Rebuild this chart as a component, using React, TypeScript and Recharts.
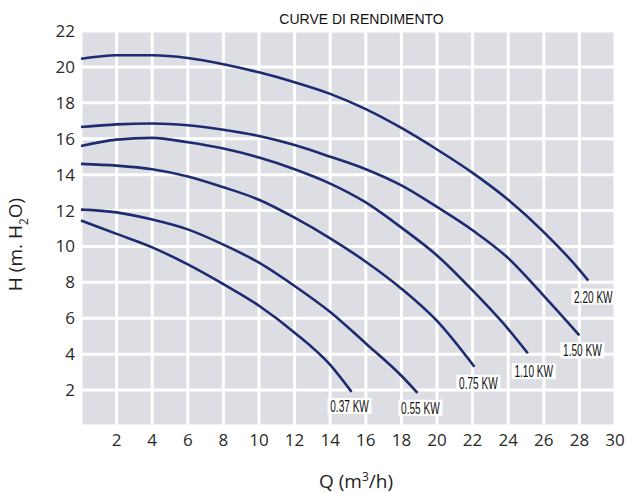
import React from 'react';
import { LineChart, Line, XAxis, YAxis, CartesianGrid, Label } from 'recharts';

// pump performance curves, Q in m3/h, H in m of water
const kw037 = [
  { q: 0, h: 11.45 }, { q: 2, h: 10.7 }, { q: 4, h: 9.95 }, { q: 6, h: 9.0 },
  { q: 8, h: 7.9 }, { q: 10, h: 6.7 }, { q: 12, h: 5.2 }, { q: 14, h: 3.4 },
  { q: 15.2, h: 1.9 },
];
const kw055 = [
  { q: 0, h: 12.05 }, { q: 2, h: 11.9 }, { q: 4, h: 11.5 }, { q: 6, h: 10.95 },
  { q: 8, h: 10.1 }, { q: 10, h: 9.1 }, { q: 12, h: 7.8 }, { q: 14, h: 6.35 },
  { q: 16, h: 4.6 }, { q: 18, h: 2.8 }, { q: 18.9, h: 1.85 },
];
const kw075 = [
  { q: 0, h: 14.6 }, { q: 2, h: 14.5 }, { q: 4, h: 14.3 }, { q: 6, h: 13.9 },
  { q: 8, h: 13.3 }, { q: 10, h: 12.6 }, { q: 12, h: 11.6 }, { q: 14, h: 10.45 },
  { q: 16, h: 9.15 }, { q: 18, h: 7.65 }, { q: 20, h: 5.85 }, { q: 22.1, h: 3.3 },
];
const kw110 = [
  { q: 0, h: 15.6 }, { q: 2, h: 15.95 }, { q: 4, h: 16.05 }, { q: 6, h: 15.8 },
  { q: 8, h: 15.45 }, { q: 10, h: 14.95 }, { q: 12, h: 14.3 }, { q: 14, h: 13.5 },
  { q: 16, h: 12.45 }, { q: 18, h: 11.05 }, { q: 20, h: 9.5 }, { q: 22, h: 7.55 },
  { q: 24, h: 5.4 }, { q: 25.1, h: 4.05 },
];
const kw150 = [
  { q: 0, h: 16.65 }, { q: 2, h: 16.8 }, { q: 4, h: 16.85 }, { q: 6, h: 16.75 },
  { q: 8, h: 16.5 }, { q: 10, h: 16.15 }, { q: 12, h: 15.65 }, { q: 14, h: 15.0 },
  { q: 16, h: 14.3 }, { q: 18, h: 13.4 }, { q: 20, h: 12.2 }, { q: 22, h: 10.9 },
  { q: 24, h: 9.35 }, { q: 26, h: 7.25 }, { q: 28, h: 5.05 },
];
const kw220 = [
  { q: 0, h: 20.45 }, { q: 2, h: 20.65 }, { q: 4, h: 20.65 }, { q: 6, h: 20.5 },
  { q: 8, h: 20.15 }, { q: 10, h: 19.7 }, { q: 12, h: 19.15 }, { q: 14, h: 18.5 },
  { q: 16, h: 17.65 }, { q: 18, h: 16.6 }, { q: 20, h: 15.4 }, { q: 22, h: 14.1 },
  { q: 24, h: 12.6 }, { q: 26, h: 10.8 }, { q: 28, h: 8.7 }, { q: 28.5, h: 8.1 },
];

const seriesNames = ['0.37 KW', '0.55 KW', '0.75 KW', '1.10 KW', '1.50 KW', '2.20 KW'];
const seriesData = [kw037, kw055, kw075, kw110, kw150, kw220];

const xTicks = [2, 4, 6, 8, 10, 12, 14, 16, 18, 20, 22, 24, 26, 28, 30];
const yTicks = [2, 4, 6, 8, 10, 12, 14, 16, 18, 20, 22];

// where each end label sits relative to the curve end, in px
const labelOffsets = [
  [-2, 14], [3, 15], [4, 16], [6, 18], [3, 15], [5, 16],
];

const CURVE = '#1d2c70';
const TICK_FONT = "'Open Sans', sans-serif";
const LABEL_FONT = "'Liberation Sans', Arial, sans-serif";

const endLabel = (name: string, last: number, dx: number, dy: number) => (props: any) => {
  if (props.index !== last) return null;
  const cx = props.x + dx;
  const cy = props.y + dy;
  return (
    <g>
      <rect x={cx - 22} y={cy - 8} width={44} height={16} fill="#fff" />
      <text
        transform={`translate(${cx} ${cy + 6}) scale(0.63 1)`}
        textAnchor="middle"
        fontFamily={LABEL_FONT}
        fontSize={16}
        fill="#111"
      >
        {name}
      </text>
    </g>
  );
};

const XTitle = (props: any) => {
  const { x, y, width } = props.viewBox;
  return (
    <text x={x + width / 2 + 8} y={y + 62} textAnchor="middle" fontFamily={TICK_FONT} fontSize={19} fill="#222">
      Q (m<tspan dy={-7} fontSize={12}>3</tspan><tspan dy={7}>/h)</tspan>
    </text>
  );
};

const YTitle = (props: any) => {
  const { y, height } = props.viewBox;
  const cx = 22;
  const cy = y + height / 2 + 16;
  return (
    <text x={cx} y={cy} transform={`rotate(-90 ${cx} ${cy})`} textAnchor="middle" fontFamily={TICK_FONT} fontSize={19} fill="#222">
      H (m. H<tspan dy={6} fontSize={12}>2</tspan><tspan dy={-6}>O)</tspan>
    </text>
  );
};

export default function App() {
  return (
    <div style={{ position: 'absolute', left: 0, top: 0, width: 626, height: 493, background: '#fff' }}>
      <div
        style={{
          position: 'absolute', left: 0, top: 11, width: 723, textAlign: 'center',
          fontFamily: LABEL_FONT, fontSize: 14, lineHeight: '16px', color: '#111',
        }}
      >
        CURVE DI RENDIMENTO
      </div>
      <LineChart width={626} height={493} margin={{ top: 31, right: 11, left: 0, bottom: 27 }}>
        <CartesianGrid fill="#dddee4" stroke="#ffffff" strokeWidth={3} />
        <XAxis
          type="number"
          dataKey="q"
          domain={[0, 30]}
          ticks={xTicks}
          height={40}
          axisLine={false}
          tickLine={false}
          tickSize={6}
          tickMargin={2}
          tick={{ fontFamily: TICK_FONT, fontSize: 17, fill: '#2a2a2a' }}
          allowDuplicatedCategory={false}
        >
          <Label content={<XTitle />} />
        </XAxis>
        <YAxis
          type="number"
          domain={[0, 22]}
          ticks={yTicks}
          width={81}
          axisLine={false}
          tickLine={false}
          tickSize={4}
          tickMargin={2}
          tick={{ fontFamily: TICK_FONT, fontSize: 17, fill: '#2a2a2a' }}
        >
          <Label content={<YTitle />} />
        </YAxis>
        {seriesData.map((d, i) => (
          <Line
            key={seriesNames[i]}
            data={d}
            dataKey="h"
            type="monotone"
            stroke={CURVE}
            strokeWidth={2.6}
            dot={false}
            activeDot={false}
            isAnimationActive={false}
            label={endLabel(seriesNames[i], d.length - 1, labelOffsets[i][0], labelOffsets[i][1])}
          />
        ))}
      </LineChart>
    </div>
  );
}
